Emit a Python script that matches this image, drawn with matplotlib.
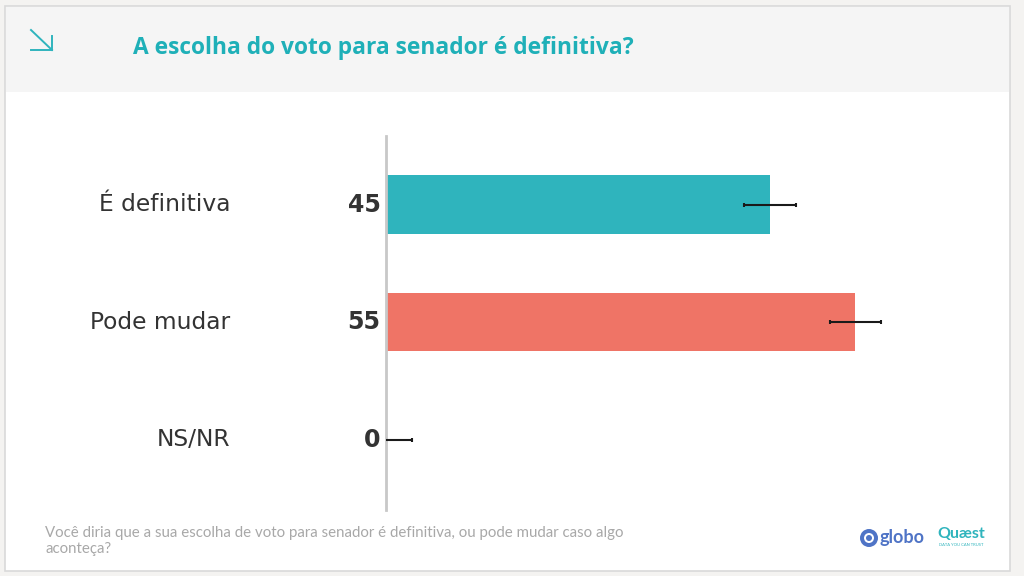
import matplotlib
matplotlib.use("Agg")
import matplotlib.pyplot as plt
from matplotlib.patches import Rectangle, Circle

categories = ["É definitiva", "Pode mudar", "NS/NR"]
values = [45, 55, 0]
errors = [3, 3, 3]
colors = ["#2fb4bd", "#ef7466", "#999999"]
title = "A escolha do voto para senador é definitiva?"
footnote = "Você diria que a sua escolha de voto para senador é definitiva, ou pode mudar caso algo\naconteça?"

W, H = 1024, 576
fig = plt.figure(figsize=(W / 100, H / 100), dpi=100)
fig.patch.set_facecolor("#f4f3f1")

# panel
bg = fig.add_axes([0, 0, 1, 1], zorder=0)
bg.set_xlim(0, W); bg.set_ylim(H, 0); bg.axis("off")
bg.add_patch(Rectangle((5, 6), 1005, 565, facecolor="white", edgecolor="#d9d9d9", lw=1.2))
bg.add_patch(Rectangle((6, 7), 1003, 85, facecolor="#f5f5f5", edgecolor="none"))
# arrow icon
bg.plot([31, 52], [30, 50], color="#2fb4bd", lw=1.4)
bg.plot([52, 52], [36, 50], color="#2fb4bd", lw=1.4)
bg.plot([31, 52], [50, 50], color="#2fb4bd", lw=1.4)
bg.text(133, 48, title, fontsize=16.4, fontweight="bold", color="#1fb0b8",
        family="Open Sans", va="center", ha="left")
bg.text(45, 541, footnote, fontsize=10.8, color="#a8a8a8", family="Lato",
        va="center", ha="left", linespacing=1.15)
# logos
bg.add_patch(Circle((869, 538), 9, facecolor="#4f74c6", edgecolor="none"))
bg.add_patch(Circle((869, 538), 5, facecolor="white", edgecolor="none"))
bg.add_patch(Circle((869, 538), 3, facecolor="#4f74c6", edgecolor="none"))
bg.text(880, 537, "globo", fontsize=13, fontweight="bold", color="#4f74c6",
        family="Lato", va="center", ha="left")
bg.text(937, 534, "Quæst", fontsize=11.5, fontweight="bold", color="#2fb4bd",
        family="Lato", va="center", ha="left")
bg.text(939, 545.5, "DATA YOU CAN TRUST", fontsize=3, color="#2fb4bd",
        family="Lato", va="center", ha="left")

# chart
ax = fig.add_axes([386 / W, 1 - 510 / H, 512 / W, 374 / H], zorder=1)
ax.patch.set_alpha(0)
ypos = list(range(len(categories)))
ax.barh(ypos, values, height=0.5, color=colors, zorder=2)
ax.errorbar(values, ypos, xerr=errors, fmt="none", ecolor="#1a1a1a",
            elinewidth=1.5, capsize=1.5, capthick=1.5, zorder=3)
ax.set_xlim(0, 60)
ax.set_ylim(2.6, -0.585)
for s in ["top", "right", "bottom"]:
    ax.spines[s].set_visible(False)
ax.spines["left"].set_color("#c8c8c8")
ax.spines["left"].set_linewidth(2)
ax.set_xticks([])
ax.set_yticks([])
for y, cat, v in zip(ypos, categories, values):
    ax.annotate(str(v), xy=(0, y), xycoords="data", xytext=(-4, 0),
                textcoords="offset points", ha="right", va="center",
                fontsize=17, fontweight="bold", color="#333333", family="DejaVu Sans")
    ax.annotate(cat, xy=(0, y), xycoords="data", xytext=(-112, 0),
                textcoords="offset points", ha="right", va="center",
                fontsize=16.8, color="#333333", family="DejaVu Sans")

fig.savefig("out.png", dpi=100, facecolor=fig.get_facecolor())
